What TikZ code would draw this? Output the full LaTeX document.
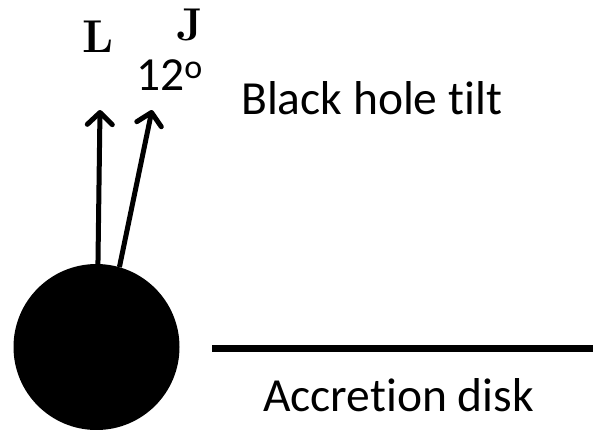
\documentclass[tikz,border=0pt]{standalone}
\usepackage[no-math]{fontspec}
\setmainfont[Ligatures=NoCommon]{Carlito}
\newfontfamily\vecfont{Latin Modern Roman}
\usetikzlibrary{arrows.meta}

\begin{document}
\begin{tikzpicture}[x=1pt, y=-1pt,
    vec/.style={line width=5pt, -{Straight Barb[length=12pt,width=25pt,line width=0pt 1,round]}},
    lbl/.style={font=\fontsize{47.5}{56}\selectfont, inner sep=0pt, anchor=base west},
    vlbl/.style={font=\fontsize{46}{55}\selectfont\vecfont\bfseries, inner sep=0pt, anchor=base west}]
    \useasboundingbox (0,0) rectangle (593,429);

    % Black hole
    \node[circle, fill=black, minimum size=166pt, inner sep=0pt] (bh) at (96.5,347) {};

    % Spin vectors L and J
    \coordinate (Ltip) at (100,110);
    \coordinate (Jtip) at (152,110);
    \draw[vec] (bh.89) -- (Ltip);
    \draw[vec] (bh.74) -- (Jtip);
    \node[vlbl] (Llbl) at (82,52) {L};
    \node[vlbl] (Jlbl) at (176,40) {J};
    \node[lbl] (ang) at (136,90) {12\raisebox{12pt}{\fontsize{34}{40}\selectfont o}};
    \node[lbl] (tilt) at (241,114) {Black hole tilt};

    % Accretion disk
    \coordinate (diskL) at (212,348.5);
    \coordinate (diskR) at (593,348.5);
    \draw[line width=6.5pt] (diskL) -- (diskR);
    \node[lbl] (disk) at (263,411) {Accretion disk};
\end{tikzpicture}
\end{document}
